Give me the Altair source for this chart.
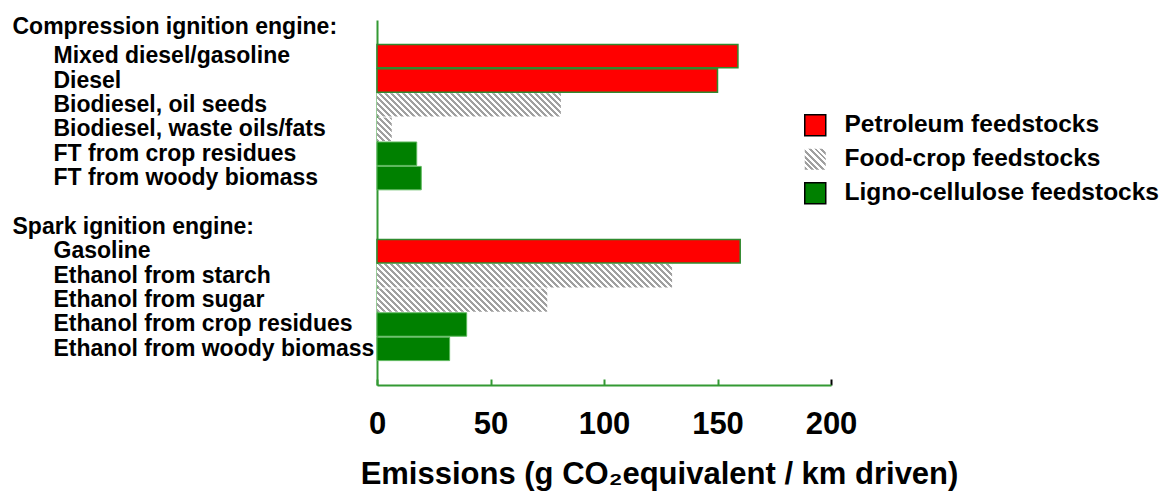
import json
import altair as alt
import pandas as pd

# ---------------- data ----------------
rows = [
    "Compression ignition engine:",
    "Mixed diesel/gasoline",
    "Diesel",
    "Biodiesel, oil seeds",
    "Biodiesel, waste oils/fats",
    "FT from crop residues",
    "FT from woody biomass",
    " ",
    "Spark ignition engine:",
    "Gasoline",
    "Ethanol from starch",
    "Ethanol from sugar",
    "Ethanol from crop residues",
    "Ethanol from woody biomass",
    "  ",
]
headers = ["Compression ignition engine:", "Spark ignition engine:"]

fuels = [
    "Mixed diesel/gasoline",
    "Diesel",
    "Biodiesel, oil seeds",
    "Biodiesel, waste oils/fats",
    "FT from crop residues",
    "FT from woody biomass",
    "Gasoline",
    "Ethanol from starch",
    "Ethanol from sugar",
    "Ethanol from crop residues",
    "Ethanol from woody biomass",
]
emissions = [159, 150, 81, 6.5, 17.5, 19.5, 160, 130, 75, 39.5, 32]
feedstocks = [
    "Petroleum feedstocks",
    "Petroleum feedstocks",
    "Food-crop feedstocks",
    "Food-crop feedstocks",
    "Ligno-cellulose feedstocks",
    "Ligno-cellulose feedstocks",
    "Petroleum feedstocks",
    "Food-crop feedstocks",
    "Food-crop feedstocks",
    "Ligno-cellulose feedstocks",
    "Ligno-cellulose feedstocks",
]
legend_order = ["Petroleum feedstocks", "Food-crop feedstocks", "Ligno-cellulose feedstocks"]
x_ticks = [0, 50, 100, 150, 200]
x_title = "Emissions (g CO\u2082equivalent / km driven)"

df = pd.DataFrame({"fuel": fuels, "emissions": emissions, "feedstock": feedstocks})

# ---------------- styling ----------------
FONT = "Liberation Sans"
PLOT_W, PLOT_H = 454, 365
X_MAX = 200
AXIS_GREEN = "#339933"
RED = "#ff0000"
GREEN = "#008000"
HATCH = "#a0a0a0"
PAD_INNER = 0.04
STEP = PLOT_H / (len(rows) - PAD_INNER)
BAR_H = STEP * (1 - PAD_INNER)
HATCH_PERIOD = 6.0  # px, measured horizontally


def hatch_stops(w, h):
    """Diagonal '\\' stripes as hard-edged gradient stops for a w x h box."""
    pt = HATCH_PERIOD / (w + h)
    stops = []
    k = 0
    while k * pt < 1:
        o0 = k * pt
        o1 = min(o0 + pt / 2, 1.0)
        o2 = min(o0 + pt, 1.0)
        stops += [(o0, HATCH), (o1, HATCH), (o1, "#ffffff"), (o2, "#ffffff")]
        k += 1
    return stops


def hatch_coords(w, h):
    d = (w * w + h * h)
    return 0.0, 1.0, (w + h) * w / d, 1.0 - (w + h) * h / d


def hatch_gradient(w, h):
    x1, y1, x2, y2 = hatch_coords(w, h)
    return alt.LinearGradient(
        gradient="linear",
        x1=x1, y1=y1, x2=x2, y2=y2,
        stops=[alt.GradientStop(offset=o, color=c) for o, c in hatch_stops(w, h)],
    )


def hatch_expr(w, h):
    x1, y1, x2, y2 = hatch_coords(w, h)
    stops = ",".join("{offset:%.5f,color:'%s'}" % (o, c) for o, c in hatch_stops(w, h))
    return "{gradient:'linear',x1:%.5f,y1:%.5f,x2:%.5f,y2:%.5f,stops:[%s]}" % (x1, y1, x2, y2, stops)


is_header = " || ".join("datum.value == %s" % json.dumps(h) for h in headers)

y_axis = alt.Axis(
    title=None,
    ticks=False,
    tickSize=0,
    grid=False,
    domainColor=AXIS_GREEN,
    domainWidth=2,
    labelFont=FONT,
    labelFontSize=23,
    labelFontWeight="bold",
    labelColor="#000000",
    labelAlign="left",
    labelLimit=420,
    labelPadding=alt.condition(is_header, alt.value(365), alt.value(324)),
    labelOffset=alt.condition("datum.value == %s" % json.dumps(headers[0]), alt.value(-5), alt.value(0)),
)

x_axis = alt.Axis(
    values=x_ticks,
    grid=False,
    domainColor=AXIS_GREEN,
    domainWidth=2,
    tickColor=alt.condition("datum.value == 200", alt.value("#000000"), alt.value(AXIS_GREEN)),
    tickWidth=2,
    tickSize=alt.ExprRef(expr="-6"),
    labelFont=FONT,
    labelFontSize=31,
    labelFontWeight="bold",
    labelColor="#000000",
    labelBaseline="alphabetic",
    labelPadding=54,
    labelFlush=False,
    labelOverlap=False,
    title=x_title,
    titleFont=FONT,
    titleFontSize=31,
    titleFontWeight="bold",
    titleColor="#000000",
    titleAlign="center",
    titleBaseline="alphabetic",
    titleX=282,
    titleY=98,
)

x_enc = alt.X("emissions:Q", scale=alt.Scale(domain=[0, X_MAX], nice=False, zero=True), axis=x_axis)
y_enc = alt.Y("fuel:N", sort=rows,
              scale=alt.Scale(domain=rows, paddingInner=PAD_INNER, paddingOuter=0),
              axis=y_axis)

base = alt.Chart(df)

red_bars = base.mark_bar(fill=RED, stroke="#2f8a2f", strokeWidth=1.5).encode(
    x=x_enc, y=y_enc
).transform_filter(alt.datum.feedstock == legend_order[0])

green_bars = base.mark_bar(fill=GREEN, stroke="#5cb85c", strokeWidth=1).encode(
    x=x_enc, y=y_enc
).transform_filter(alt.datum.feedstock == legend_order[2])

hatch_layers = []
for f, v, s in zip(fuels, emissions, feedstocks):
    if s != legend_order[1]:
        continue
    w = v * PLOT_W / X_MAX
    hatch_layers.append(
        base.mark_bar(fill=hatch_gradient(w, BAR_H)).encode(x=x_enc, y=y_enc)
        .transform_filter(alt.datum.fuel == f)
    )

legend_cfg = dict(
    title=None,
    orient="none",
    legendX=426,
    legendY=93,
    labelFont=FONT,
    labelFontSize=24.5,
    labelFontWeight="bold",
    labelColor="#000000",
    labelLimit=500,
    labelOffset=17,
    symbolType="square",
    symbolSize=441,
    rowPadding=6,
    padding=0,
)

legend_layer = base.mark_point(shape="square", filled=True, size=441, strokeWidth=1.5, opacity=1).encode(
    x=x_enc,
    y=y_enc,
    color=alt.Color(
        "feedstock:N",
        scale=alt.Scale(domain=legend_order, range=[RED, alt.ExprRef(expr=hatch_expr(21, 21)), GREEN]),
        legend=alt.Legend(**legend_cfg),
    ),
    stroke=alt.Stroke(
        "feedstock:N",
        scale=alt.Scale(domain=legend_order, range=["#000000", "transparent", "#000000"]),
        legend=alt.Legend(**legend_cfg),
    ),
).transform_filter("false")

chart = alt.layer(red_bars, green_bars, *hatch_layers, legend_layer).properties(
    width=PLOT_W,
    height=PLOT_H,
    autosize=alt.AutoSizeParams(type="none"),
    padding={"left": 369, "top": 12, "right": 334, "bottom": 106},
    background="#ffffff",
).configure_view(stroke=None)

chart.save("out.html", embed_options={"renderer": "svg", "actions": False})
